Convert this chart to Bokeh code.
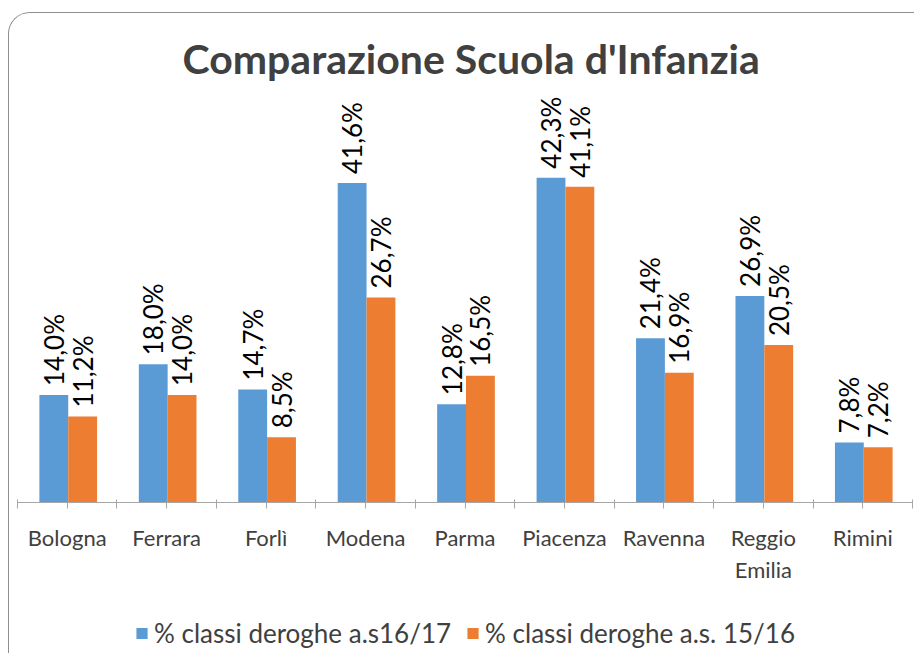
import math
from bokeh.plotting import figure
from bokeh.layouts import column
from bokeh.models import Range1d, FixedTicker, ColumnDataSource, Legend, LegendItem
from bokeh.transform import dodge
from bokeh.embed import file_html
from bokeh.resources import INLINE
from bokeh.core.properties import value

# ---- data ----
cities = ["Bologna", "Ferrara", "Forlì", "Modena", "Parma", "Piacenza",
          "Ravenna", "Reggio\nEmilia", "Rimini"]
s1617 = [14.0, 18.0, 14.7, 41.6, 12.8, 42.3, 21.4, 26.9, 7.8]
s1516 = [11.2, 14.0, 8.5, 26.7, 16.5, 41.1, 16.9, 20.5, 7.2]
series_names = ["% classi deroghe a.s16/17", "% classi deroghe a.s. 15/16"]
title_text = "Comparazione Scuola d'Infanzia"

BLUE = "#5B9BD5"
ORANGE = "#ED7D31"
FONT = "Lato"

def fmt(v):
    return f"{v:.1f}".replace(".", ",") + "%"

xs = [i + 0.5 for i in range(len(cities))]
src = ColumnDataSource(dict(x=xs, a=s1617, b=s1516,
                            la=[fmt(v) for v in s1617],
                            lb=[fmt(v) for v in s1516]))

BL, BR = 8, 2   # side borders shared by both stacked figures

# ---- main chart ----
p = figure(width=905, height=572, output_backend="svg", toolbar_location=None,
           x_range=Range1d(0, len(cities)), y_range=Range1d(0, 54.3),
           y_axis_location=None, tools="",
           min_border_left=BL, min_border_right=BR, min_border_top=72,
           min_border_bottom=80)
p.outline_line_color = None
p.xgrid.visible = False
p.ygrid.visible = False
p.background_fill_color = "white"
p.border_fill_color = "white"

p.title.text = title_text
p.title.align = "left"
p.title.offset = 165
p.title.standoff = 5
p.title.text_font = FONT
p.title.text_font_size = "41px"
p.title.text_font_style = "bold"
p.title.text_color = "#404040"

OFF_A = -0.135
OFF_B = 0.155
W = 0.29

r1 = p.vbar(x=dodge("x", OFF_A, range=p.x_range), top="a", width=W, bottom=0,
            source=src, fill_color=BLUE, line_color=None)
r2 = p.vbar(x=dodge("x", OFF_B, range=p.x_range), top="b", width=W, bottom=0,
            source=src, fill_color=ORANGE, line_color=None)

for off, col, lab in ((OFF_A, "a", "la"), (OFF_B, "b", "lb")):
    p.text(x=dodge("x", off, range=p.x_range), y=col, text=lab, source=src,
           angle=math.pi / 2, text_align="left", text_baseline="middle",
           y_offset=-9, text_font=value(FONT), text_font_size="26px",
           text_color="#000000")

ax = p.xaxis[0]
ax.ticker = FixedTicker(ticks=xs, minor_ticks=list(range(len(cities) + 1)))
ax.major_label_overrides = {x: c for x, c in zip(xs, cities)}
ax.axis_line_color = "#a6a6a6"
ax.major_tick_line_color = "#a6a6a6"
ax.minor_tick_line_color = "#a6a6a6"
ax.major_tick_in = 0
ax.major_tick_out = 6
ax.minor_tick_in = 3
ax.minor_tick_out = 6
ax.major_label_standoff = 15
ax.major_label_text_font = FONT
ax.major_label_text_font_size = "22px"
ax.major_label_text_color = "#404040"

# ---- legend strip (hidden copies of the series, shown only in the legend) ----
lp = figure(width=905, height=68, output_backend="svg", toolbar_location=None,
            x_range=Range1d(0, len(cities)), y_range=Range1d(0, 54.3),
            x_axis_location=None, y_axis_location=None, tools="",
            min_border_left=BL, min_border_right=BR, min_border_top=0,
            min_border_bottom=0)
lp.outline_line_color = None
lp.xgrid.visible = False
lp.ygrid.visible = False
l1 = lp.vbar(x="x", top="a", width=W, source=src, fill_color=BLUE, line_color=None)
l2 = lp.vbar(x="x", top="b", width=W, source=src, fill_color=ORANGE, line_color=None)
l1.visible = False
l2.visible = False

legend = Legend(items=[LegendItem(label=series_names[0], renderers=[l1]),
                       LegendItem(label=series_names[1], renderers=[l2])],
                orientation="horizontal", location="bottom_center",
                glyph_width=14, glyph_height=14, spacing=14, label_standoff=6,
                label_text_font=FONT, label_text_font_size="26px",
                label_text_color="#404040", border_line_color=None,
                background_fill_alpha=0, inactive_fill_alpha=0,
                margin=4, padding=0)
lp.add_layout(legend, "center")

layout = column(p, lp, spacing=0,
                styles={"margin-left": "8px", "margin-top": "12px",
                        "border-top": "1px solid #8e8e8e",
                        "border-left": "1px solid #8e8e8e",
                        "border-top-left-radius": "22px", "overflow": "hidden"})

open("out.html", "w").write(file_html(layout, INLINE))
